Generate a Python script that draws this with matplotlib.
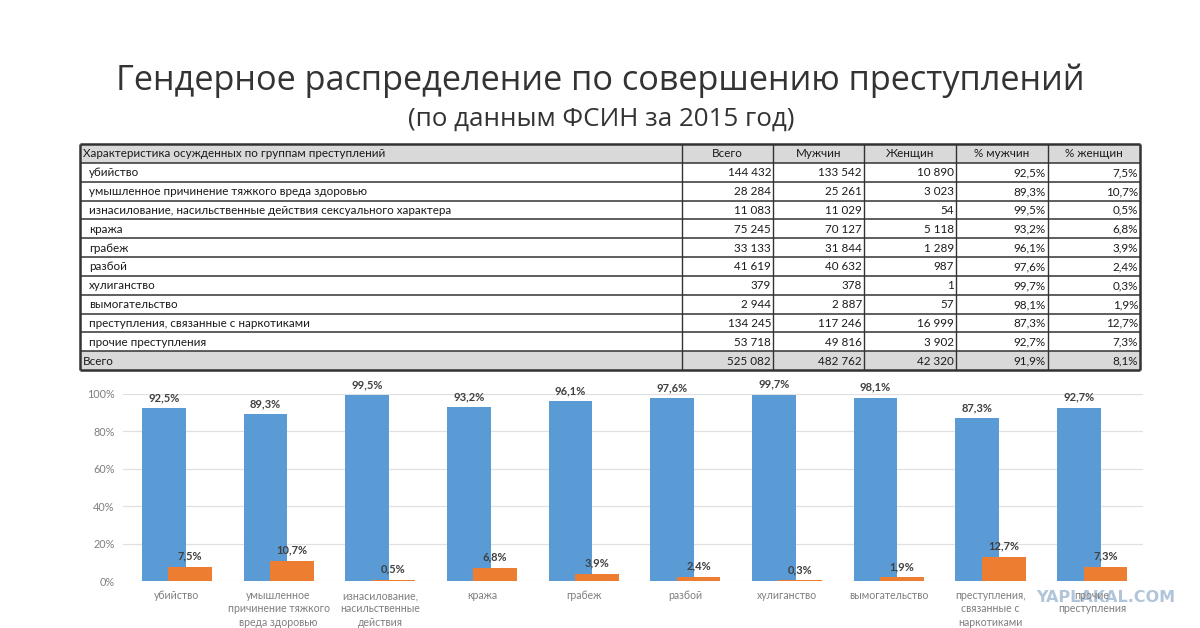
import numpy as np
import matplotlib
matplotlib.use("Agg")
import matplotlib.pyplot as plt
from matplotlib.patches import Rectangle

# ---------------------------------------------------------------- data
groups = ["убийство",
          "умышленное причинение тяжкого вреда здоровью",
          "изнасилование, насильственные действия сексуального характера",
          "кража", "грабеж", "разбой", "хулиганство", "вымогательство",
          "преступления, связанные с наркотиками",
          "прочие преступления"]
chart_labels = ["убийство",
                "умышленное\nпричинение тяжкого\nвреда здоровью",
                "изнасилование,\nнасильственные\nдействия",
                "кража", "грабеж", "разбой", "хулиганство", "вымогательство",
                "преступления,\nсвязанные с\nнаркотиками",
                "прочие\nпреступления"]
total = [144432, 28284, 11083, 75245, 33133, 41619, 379, 2944, 134245, 53718]
men = [133542, 25261, 11029, 70127, 31844, 40632, 378, 2887, 117246, 49816]
women = [10890, 3023, 54, 5118, 1289, 987, 1, 57, 16999, 3902]
pct_men = [92.5, 89.3, 99.5, 93.2, 96.1, 97.6, 99.7, 98.1, 87.3, 92.7]
pct_women = [7.5, 10.7, 0.5, 6.8, 3.9, 2.4, 0.3, 1.9, 12.7, 7.3]
sum_row = ["Всего", 525082, 482762, 42320, 91.9, 8.1]
header = ["Характеристика осужденных по группам преступлений",
          "Всего", "Мужчин", "Женщин", "% мужчин", "% женщин"]

BLUE = "#5B9BD5"
ORANGE = "#ED7D31"
FONT = ["Lato", "DejaVu Sans"]
TITLE_FONT = ["Open Sans", "DejaVu Sans"]


def fmt_int(v):
    return f"{v:,}".replace(",", " ")


def fmt_pct(v):
    return f"{v:.1f}%".replace(".", ",")


fig = plt.figure(figsize=(12, 6.28), dpi=100)
fig.patch.set_facecolor("white")

# overlay in pixel coordinates for title and table
lay = fig.add_axes([0, 0, 1, 1])
lay.set_xlim(0, 1200)
lay.set_ylim(628, 0)
lay.axis("off")

lay.text(600, 81, "Гендерное распределение по совершению преступлений",
         ha="center", va="center", fontsize=24.7, family=TITLE_FONT,
         color="#333333")
lay.text(601, 119, "(по данным ФСИН за 2015 год)",
         ha="center", va="center", fontsize=18.7, family=TITLE_FONT,
         color="#333333")

# ---------------------------------------------------------------- table
col_edges = [80, 682, 773, 864, 956, 1048, 1140]
top, bottom = 144, 370
rows = [header]
for i in range(len(groups)):
    rows.append([groups[i], fmt_int(total[i]), fmt_int(men[i]),
                 fmt_int(women[i]), fmt_pct(pct_men[i]),
                 fmt_pct(pct_women[i])])
rows.append([sum_row[0], fmt_int(sum_row[1]), fmt_int(sum_row[2]),
             fmt_int(sum_row[3]), fmt_pct(sum_row[4]), fmt_pct(sum_row[5])])
nrow = len(rows)
rh = (bottom - top) / nrow

for r, row in enumerate(rows):
    y0 = top + r * rh
    shaded = r == 0 or r == nrow - 1
    if shaded:
        lay.add_patch(Rectangle((col_edges[0], y0), col_edges[-1] - col_edges[0],
                                rh, facecolor="#d9d9d9", edgecolor="none"))
    yc = y0 + rh / 2 + 0.5
    for c, txt in enumerate(row):
        if c == 0:
            x = col_edges[0] + (3 if shaded else 9)
            ha = "left"
        elif r == 0:
            x = (col_edges[c] + col_edges[c + 1]) / 2
            ha = "center"
        else:
            x = col_edges[c + 1] - 2
            ha = "right"
        lay.text(x, yc, txt, ha=ha, va="center", fontsize=8.4, family=FONT,
                 color="#1a1a1a")

for r in range(nrow + 1):
    y = top + r * rh
    lw = 1.8 if r in (0, nrow) else 1.1
    lay.plot([col_edges[0], col_edges[-1]], [y, y], color="#333333", lw=lw,
             solid_capstyle="butt")
for c, xe in enumerate(col_edges):
    lw = 1.8 if c in (0, len(col_edges) - 1) else 1.0
    lay.plot([xe, xe], [top, bottom], color="#333333", lw=lw,
             solid_capstyle="butt")

# ---------------------------------------------------------------- bar chart
ax = fig.add_axes([123 / 1200, 1 - 581 / 628, 1020 / 1200, 187 / 628])
x = np.arange(len(pct_men))
w = 0.43
off = 0.13
ax.bar(x - off, pct_men, w, color=BLUE, zorder=2)
ax.bar(x + off, pct_women, w, color=ORANGE, zorder=3)

for xi, v in zip(x, pct_men):
    ax.annotate(fmt_pct(v), (xi - off, v), xytext=(0, 3.5),
                textcoords="offset points", ha="center", va="bottom",
                fontsize=8, fontweight="bold", family=FONT, color="#404040",
                annotation_clip=False)
for xi, v in zip(x, pct_women):
    ax.annotate(fmt_pct(v), (xi + off, v), xytext=(0, 4),
                textcoords="offset points", ha="center", va="bottom",
                fontsize=8, fontweight="bold", family=FONT, color="#404040",
                annotation_clip=False)

ax.set_xlim(-0.53, 9.5)
ax.set_ylim(0, 100)
ax.set_yticks(np.arange(0, 101, 20))
ax.set_yticklabels([f"{t}%" for t in range(0, 101, 20)], family=FONT,
                   fontsize=7.8, color="#7f7f7f")
ax.set_xticks(x)
ax.set_xticklabels(chart_labels, family=FONT, fontsize=7.6, color="#7f7f7f",
                   linespacing=1.27)
ax.tick_params(axis="both", length=0)
ax.tick_params(axis="y", pad=6)
ax.tick_params(axis="x", pad=6.5)
ax.grid(axis="y", color="#e0e0e0", lw=0.9, zorder=0)
for s in ax.spines.values():
    s.set_visible(False)
ax.set_facecolor("none")

# watermark of the source image
lay.text(1106, 598, "YAPLAKAL.COM", ha="center", va="center", fontsize=11.5,
         fontweight="bold", family="DejaVu Sans", color="#a8bfd6", alpha=0.9)

fig.savefig("out.png", dpi=100)
